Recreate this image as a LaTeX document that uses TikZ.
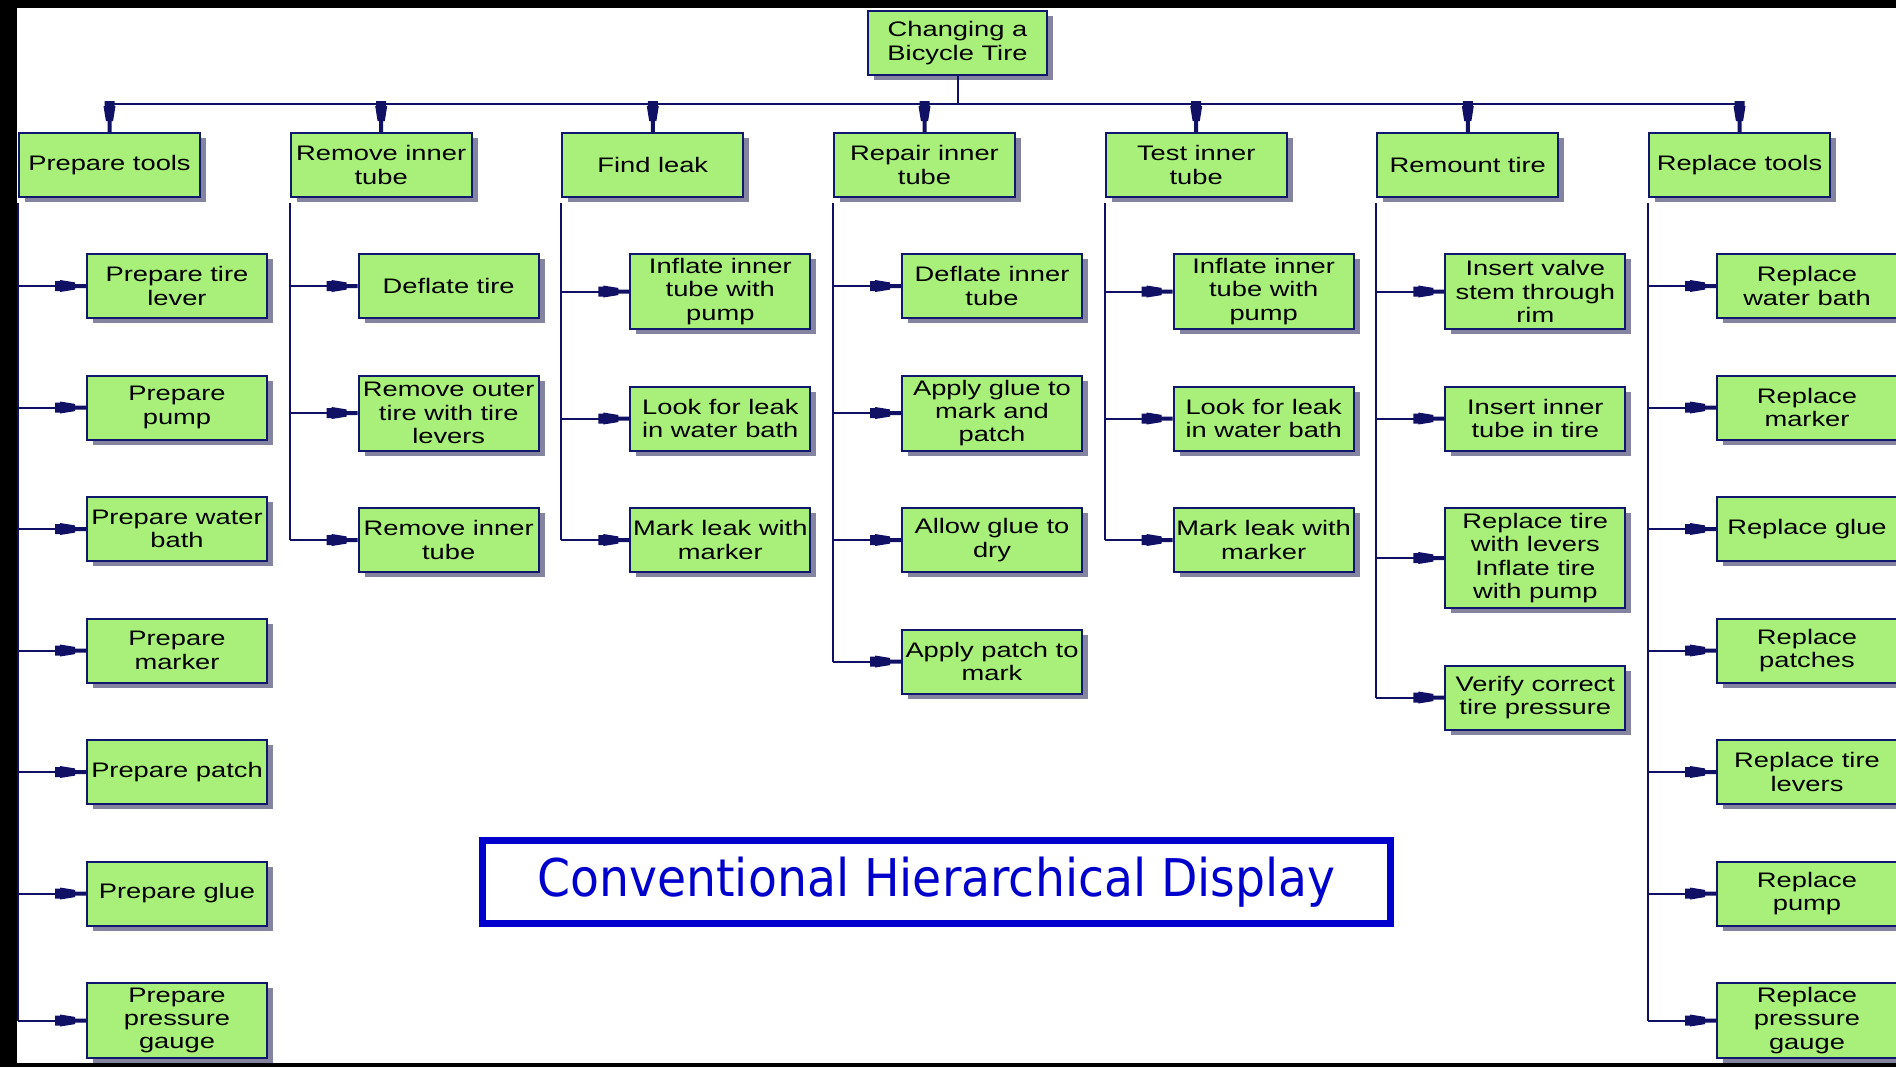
\documentclass[tikz,border=0pt]{standalone}
\usepackage{fontspec}
\usetikzlibrary{shadows}

\newfontfamily\boxfont{Liberation Sans}[FakeStretch=1.3]
\newfontfamily\titlefont{DejaVu Sans}[FakeStretch=0.91]
\newcommand\boxtext{\boxfont\fontsize{10.5pt}{11.7pt}\selectfont}

\definecolor{boxfill}{RGB}{168,240,122}
\definecolor{boxline}{RGB}{16,24,110}
\definecolor{linec}{RGB}{16,16,100}
\definecolor{shade}{RGB}{132,132,160}
\definecolor{titleblue}{RGB}{0,0,204}

% plug-shaped arrow tip: thin stem at the tip, tapered block behind it
\pgfdeclarearrow{
  name = Plug,
  setup code = {
    \pgfarrowssettipend{0pt}
    \pgfarrowssetlineend{-1pt}
    \pgfarrowssetvisualbackend{-15.5pt}
    \pgfarrowssetbackend{-15.5pt}
    \pgfarrowshullpoint{0pt}{1pt}
    \pgfarrowshullpoint{0pt}{-1pt}
    \pgfarrowshullpoint{-15.5pt}{3pt}
    \pgfarrowshullpoint{-15.5pt}{-3pt}
  },
  drawing code = {
    \pgfpathmoveto{\pgfqpoint{0pt}{1pt}}
    \pgfpathlineto{\pgfqpoint{-5.5pt}{1pt}}
    \pgfpathlineto{\pgfqpoint{-5.5pt}{1.8pt}}
    \pgfpathlineto{\pgfqpoint{-13pt}{3pt}}
    \pgfpathlineto{\pgfqpoint{-13pt}{2.5pt}}
    \pgfpathlineto{\pgfqpoint{-15.5pt}{2.5pt}}
    \pgfpathlineto{\pgfqpoint{-15.5pt}{-2.5pt}}
    \pgfpathlineto{\pgfqpoint{-13pt}{-2.5pt}}
    \pgfpathlineto{\pgfqpoint{-13pt}{-3pt}}
    \pgfpathlineto{\pgfqpoint{-5.5pt}{-1.8pt}}
    \pgfpathlineto{\pgfqpoint{-5.5pt}{-1pt}}
    \pgfpathlineto{\pgfqpoint{0pt}{-1pt}}
    \pgfpathclose
    \pgfusepathqfill
  }
}

\tikzset{
  box/.style={draw=boxline, fill=boxfill, line width=1pt, inner sep=0pt,
    minimum width=90pt, minimum height=32pt, align=center, font=\boxtext,
    drop shadow={shadow xshift=3pt, shadow yshift=-2.5pt, fill=shade, opacity=1}},
  tall3/.style={minimum height=37.5pt},
  tall4/.style={minimum height=50pt},
  conn/.style={color=linec, line width=1pt},
}

\begin{document}
\begin{tikzpicture}[x=0.5pt, y=-0.5pt]
\useasboundingbox (0,0) rectangle (1896,1067);
\clip (0,0) rectangle (1896,1067);
\fill[white] (0,0) rectangle (1896,1067);

% dark frame along the top, left and bottom edges
\fill[black] (0,0) rectangle (1896,8);
\fill[black] (0,0) rectangle (17,1067);
\fill[black] (0,1063) rectangle (1896,1067);

% root task
\node[box, minimum width=89.5pt, anchor=north] (root) at (957.5,10) {Changing a\\Bicycle Tire};
\coordinate (bus) at (957.5,104);

% first-level tasks
\node[box, minimum width=90.5pt, anchor=north] (t1) at (109.5,132) {Prepare tools};
\node[box, minimum width=90.5pt, anchor=north] (t2) at (381.2,132) {Remove inner\\tube};
\node[box, minimum width=90.5pt, anchor=north] (t3) at (652.8,132) {Find leak};
\node[box, minimum width=90.5pt, anchor=north] (t4) at (924.5,132) {Repair inner\\tube};
\node[box, minimum width=90.5pt, anchor=north] (t5) at (1196.2,132) {Test inner\\tube};
\node[box, minimum width=90.5pt, anchor=north] (t6) at (1467.8,132) {Remount tire};
\node[box, minimum width=90.5pt, anchor=north] (t7) at (1739.5,132) {Replace tools};

\foreach \t in {t1,t2,t3,t4,t5,t6,t7}
  \draw[conn,-Plug] (root.south) -- (bus) -| (\t.north);

% Prepare tools
\node[box, anchor=north west] (t1a) at (86,253) {Prepare tire\\lever};
\node[box, anchor=north west] (t1b) at (86,374.5) {Prepare\\pump};
\node[box, anchor=north west] (t1c) at (86,496) {Prepare water\\bath};
\node[box, anchor=north west] (t1d) at (86,617.5) {Prepare\\marker};
\node[box, anchor=north west] (t1e) at (86,739) {Prepare patch};
\node[box, anchor=north west] (t1f) at (86,860.5) {Prepare glue};
\node[box, tall3, anchor=north west] (t1g) at (86,982) {Prepare\\pressure\\gauge};

% Remove inner tube
\node[box, anchor=north west] (t2a) at (357.7,253) {Deflate tire};
\node[box, tall3, anchor=north west] (t2b) at (357.7,374.5) {Remove outer\\tire with tire\\levers};
\node[box, anchor=north west] (t2c) at (357.7,507) {Remove inner\\tube};

% Find leak
\node[box, tall3, anchor=north west] (t3a) at (629.3,253) {Inflate inner\\tube with\\pump};
\node[box, anchor=north west] (t3b) at (629.3,385.5) {Look for leak\\in water bath};
\node[box, anchor=north west] (t3c) at (629.3,507) {Mark leak with\\marker};

% Repair inner tube
\node[box, anchor=north west] (t4a) at (901,253) {Deflate inner\\tube};
\node[box, tall3, anchor=north west] (t4b) at (901,374.5) {Apply glue to\\mark and\\patch};
\node[box, anchor=north west] (t4c) at (901,507) {Allow glue to\\dry};
\node[box, anchor=north west] (t4d) at (901,628.5) {Apply patch to\\mark};

% Test inner tube
\node[box, tall3, anchor=north west] (t5a) at (1172.7,253) {Inflate inner\\tube with\\pump};
\node[box, anchor=north west] (t5b) at (1172.7,385.5) {Look for leak\\in water bath};
\node[box, anchor=north west] (t5c) at (1172.7,507) {Mark leak with\\marker};

% Remount tire
\node[box, tall3, anchor=north west] (t6a) at (1444.3,253) {Insert valve\\stem through\\rim};
\node[box, anchor=north west] (t6b) at (1444.3,385.5) {Insert inner\\tube in tire};
\node[box, tall4, anchor=north west] (t6c) at (1444.3,507) {Replace tire\\with levers\\Inflate tire\\with pump};
\node[box, anchor=north west] (t6d) at (1444.3,664.5) {Verify correct\\tire pressure};

% Replace tools
\node[box, anchor=north west] (t7a) at (1716,253) {Replace\\water bath};
\node[box, anchor=north west] (t7b) at (1716,374.5) {Replace\\marker};
\node[box, anchor=north west] (t7c) at (1716,496) {Replace glue};
\node[box, anchor=north west] (t7d) at (1716,617.5) {Replace\\patches};
\node[box, anchor=north west] (t7e) at (1716,739) {Replace tire\\levers};
\node[box, anchor=north west] (t7f) at (1716,860.5) {Replace\\pump};
\node[box, tall3, anchor=north west] (t7g) at (1716,982) {Replace\\pressure\\gauge};

% vertical trunks and branch arrows
\draw[conn] ([yshift=-2.5pt]t1.south west) -- (t1.south west |- t1g.west);
\draw[conn] ([yshift=-2.5pt]t2.south west) -- (t2.south west |- t2c.west);
\draw[conn] ([yshift=-2.5pt]t3.south west) -- (t3.south west |- t3c.west);
\draw[conn] ([yshift=-2.5pt]t4.south west) -- (t4.south west |- t4d.west);
\draw[conn] ([yshift=-2.5pt]t5.south west) -- (t5.south west |- t5c.west);
\draw[conn] ([yshift=-2.5pt]t6.south west) -- (t6.south west |- t6d.west);
\draw[conn] ([yshift=-2.5pt]t7.south west) -- (t7.south west |- t7g.west);

\foreach \p/\kids in {t1/{t1a,t1b,t1c,t1d,t1e,t1f,t1g}, t2/{t2a,t2b,t2c},
    t3/{t3a,t3b,t3c}, t4/{t4a,t4b,t4c,t4d}, t5/{t5a,t5b,t5c},
    t6/{t6a,t6b,t6c,t6d}, t7/{t7a,t7b,t7c,t7d,t7e,t7f,t7g}}
  \foreach \c in \kids
    \draw[conn,-Plug] (\p.south west |- \c.west) -- (\c.west);

% caption
\node[draw=titleblue, line width=3.5pt, minimum width=454pt, minimum height=41.5pt,
      inner sep=0pt, text=titleblue, font=\titlefont\fontsize{26pt}{30pt}\selectfont]
      (caption) at (936.5,882) {Conventional Hierarchical Display};
\end{tikzpicture}
\end{document}
